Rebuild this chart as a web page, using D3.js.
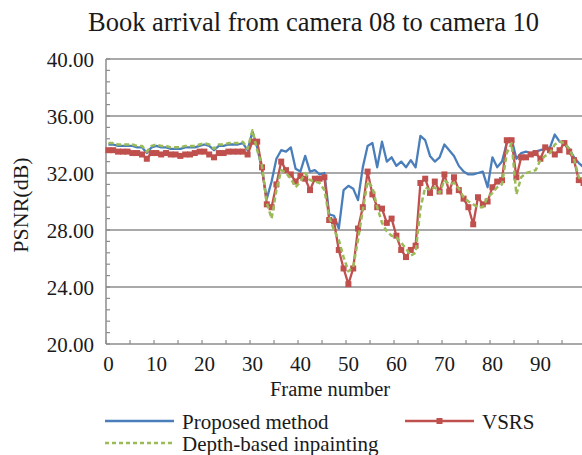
<!DOCTYPE html>
<html>
<head>
<meta charset="utf-8">
<script src="https://cdn.jsdelivr.net/npm/d3@7"></script>
<style>
  html, body { margin: 0; padding: 0; background: #fff; }
  svg { display: block; }
</style>
</head>
<body>
<svg id="chart" width="582" height="455"></svg>
<script>
// Frame indices 0..99
const frames = d3.range(0, 100);

// PSNR (dB) per frame
const proposed = [
  34.0, 34.0, 33.9, 33.9, 33.9, 33.9, 33.8, 33.8, 33.4, 33.8,
  33.9, 33.8, 33.8, 33.7, 33.7, 33.7, 33.8, 33.8, 33.8, 33.9,
  34.0, 33.9, 33.6, 33.9, 33.9, 34.0, 34.0, 34.0, 34.1, 33.6,
  34.9, 33.8, 32.2, 30.2, 31.4, 33.0, 33.6, 33.5, 33.8, 32.3,
  32.1, 33.2, 32.1, 32.2, 31.9, 32.0, 29.1, 29.0, 28.1, 30.8,
  31.1, 30.9, 30.1, 32.4, 33.9, 34.1, 32.4, 34.2, 32.8, 33.1,
  32.5, 32.8, 32.4, 32.9, 32.4, 34.6, 34.3, 33.2, 32.8, 33.1,
  34.0, 33.6, 33.2, 32.5, 32.1, 31.9, 31.9, 32.0, 32.1, 31.0,
  33.1, 32.4, 32.8, 34.1, 34.4, 33.0, 33.4, 33.5, 33.4, 33.5,
  33.6, 33.7, 33.8, 34.7, 34.2, 34.1, 33.7, 33.1, 32.7, 32.4
];
const vsrs = [
  33.6, 33.6, 33.5, 33.5, 33.5, 33.4, 33.4, 33.3, 33.0, 33.4,
  33.4, 33.3, 33.4, 33.3, 33.3, 33.2, 33.3, 33.3, 33.4, 33.5,
  33.5, 33.3, 33.1, 33.4, 33.4, 33.5, 33.5, 33.5, 33.5, 33.3,
  34.2, 34.2, 32.4, 29.8, 29.6, 31.2, 32.8, 32.2, 31.9, 31.4,
  31.8, 31.6, 30.8, 31.6, 31.6, 31.7, 28.7, 28.6, 26.6, 25.3,
  24.2, 25.3, 28.1, 29.6, 32.1, 30.5, 29.6, 29.5, 28.5, 28.8,
  27.6, 26.6, 26.1, 26.6, 26.9, 31.3, 31.6, 30.6, 31.4, 30.7,
  31.9, 30.7, 31.7, 30.8, 30.2, 29.6, 28.4, 30.3, 29.8, 30.0,
  31.0, 31.4, 31.5, 34.3, 34.3, 31.7, 33.1, 33.1, 33.3, 33.4,
  33.0, 33.8, 33.6, 33.3, 33.6, 34.1, 33.5, 32.9, 31.5, 31.3
];
const depthInpaint = [
  34.1, 34.1, 34.0, 34.0, 34.0, 34.0, 33.9, 33.9, 33.5, 33.9,
  34.0, 33.9, 33.9, 33.8, 33.8, 33.8, 33.9, 33.9, 33.9, 34.0,
  34.1, 34.0, 33.7, 34.0, 34.0, 34.1, 34.1, 34.1, 34.2, 33.7,
  35.0, 33.6, 32.5, 29.9, 28.8, 30.8, 32.2, 32.0, 31.6, 31.0,
  31.4, 32.0, 31.5, 31.4, 31.3, 30.8, 28.9, 28.0, 27.3, 26.1,
  25.1, 25.4, 27.3, 29.4, 31.4, 31.0, 29.6, 28.5, 27.9, 27.6,
  27.5, 27.1, 26.7, 26.2, 26.4, 29.5, 31.0, 30.8, 31.0, 30.6,
  31.5, 31.2, 31.3, 30.9, 30.3, 30.0, 29.8, 29.6, 29.6, 30.3,
  30.6, 31.0, 31.2, 33.4, 34.1, 30.5, 31.7, 32.0, 32.1, 32.2,
  32.9, 33.2, 33.4, 34.0, 34.2, 34.1, 33.7, 33.0, 31.7, 31.4
];

const yTicks = [20, 24, 28, 32, 36, 40];
const xLabels = [0, 10, 20, 30, 40, 50, 60, 70, 80, 90];

const titleText = "Book arrival from camera 08 to camera 10";
const yTitle = "PSNR(dB)";
const xTitle = "Frame number";
const seriesNames = ["Proposed method", "VSRS", "Depth-based inpainting"];

const colors = { blue: "#4a7ebb", red: "#c0504d", green: "#9bbb59", grid: "#8c8c8c", text: "#1a1a1a" };
const fontFamily = "'Liberation Serif', 'DejaVu Serif', serif";
const labelSize = 21;

const svg = d3.select("#chart")
  .attr("font-family", fontFamily)
  .style("font-family", fontFamily);
svg.append("rect").attr("width", 582).attr("height", 455).attr("fill", "#fff");

const plot = { left: 106, right: 586, top: 59, bottom: 344 };

const x = d3.scaleBand().domain(frames).range([plot.left, plot.right]).padding(0);
const cx = i => x(i) + x.bandwidth() / 2;
const y = d3.scaleLinear().domain([20, 40]).range([plot.bottom, plot.top]);

function label(sel) {
  return sel.attr("fill", colors.text).style("font-family", fontFamily);
}

// Title
svg.append("text")
  .attr("x", 313.5).attr("y", 31)
  .attr("text-anchor", "middle")
  .attr("font-size", 26.5)
  .call(label)
  .text(titleText);

// Horizontal gridlines (including top frame line)
svg.append("g").selectAll("line")
  .data(yTicks.filter(v => v > 20))
  .join("line")
  .attr("x1", plot.left).attr("x2", plot.right)
  .attr("y1", d => y(d)).attr("y2", d => y(d))
  .attr("stroke", colors.grid).attr("stroke-width", 1.5);

// Y axis with minor ticks drawn inward
const yAxis = svg.append("g").attr("transform", `translate(${plot.left},0)`);
yAxis.append("line")
  .attr("x1", 0).attr("x2", 0).attr("y1", plot.top).attr("y2", plot.bottom)
  .attr("stroke", colors.grid).attr("stroke-width", 1.5);
const minor = d3.range(20, 40.001, 0.8);
yAxis.selectAll("line.minor")
  .data(minor)
  .join("line").attr("class", "minor")
  .attr("x1", 0).attr("x2", 4)
  .attr("y1", d => y(d)).attr("y2", d => y(d))
  .attr("stroke", colors.grid).attr("stroke-width", 1.2);
yAxis.selectAll("text")
  .data(yTicks)
  .join("text")
  .attr("x", -12).attr("y", d => y(d) + 7.5)
  .attr("text-anchor", "end")
  .attr("font-size", labelSize)
  .call(label)
  .text(d => d3.format(".2f")(d));

// X axis
const xAxis = svg.append("g");
xAxis.append("line")
  .attr("x1", plot.left).attr("x2", plot.right)
  .attr("y1", plot.bottom).attr("y2", plot.bottom)
  .attr("stroke", colors.grid).attr("stroke-width", 1.5);
xAxis.selectAll("line.tick")
  .data(d3.range(0, 100, 5))
  .join("line").attr("class", "tick")
  .attr("x1", d => x(d)).attr("x2", d => x(d))
  .attr("y1", plot.bottom).attr("y2", plot.bottom - 4)
  .attr("stroke", colors.grid).attr("stroke-width", 1.2);
xAxis.selectAll("text")
  .data(xLabels)
  .join("text")
  .attr("x", d => cx(d)).attr("y", 371)
  .attr("text-anchor", "middle")
  .attr("font-size", labelSize)
  .call(label)
  .text(d => d);

// Axis titles
svg.append("text")
  .attr("x", 330).attr("y", 396)
  .attr("text-anchor", "middle")
  .attr("font-size", 20.5)
  .call(label)
  .text(xTitle);
svg.append("text")
  .attr("transform", "translate(28,205) rotate(-90)")
  .attr("text-anchor", "middle")
  .attr("font-size", 22)
  .call(label)
  .text(yTitle);

// Series
const line = d3.line().x((d, i) => cx(i)).y(d => y(d));

const chartArea = svg.append("g");
chartArea.append("path")
  .datum(proposed)
  .attr("d", line)
  .attr("fill", "none").attr("stroke", colors.blue).attr("stroke-width", 2.3)
  .attr("stroke-linejoin", "round");

chartArea.append("path")
  .datum(vsrs)
  .attr("d", line)
  .attr("fill", "none").attr("stroke", colors.red).attr("stroke-width", 2.3)
  .attr("stroke-linejoin", "round");
chartArea.selectAll("rect.m")
  .data(vsrs)
  .join("rect").attr("class", "m")
  .attr("x", (d, i) => cx(i) - 3).attr("y", d => y(d) - 3)
  .attr("width", 6).attr("height", 6)
  .attr("fill", colors.red);

chartArea.append("path")
  .datum(depthInpaint)
  .attr("d", line)
  .attr("fill", "none").attr("stroke", colors.green).attr("stroke-width", 2.5)
  .attr("stroke-dasharray", "5,3")
  .attr("stroke-linejoin", "round");

// Legend
const legend = svg.append("g");
const legendItems = [
  { name: seriesNames[0], color: colors.blue, x: 105, y: 421, dash: null, marker: false },
  { name: seriesNames[1], color: colors.red, x: 405, y: 421, dash: null, marker: true },
  { name: seriesNames[2], color: colors.green, x: 105, y: 443, dash: "4,3", marker: false }
];
legendItems.forEach(it => {
  const g = legend.append("g");
  g.append("line")
    .attr("x1", it.x).attr("x2", it.x + 69)
    .attr("y1", it.y).attr("y2", it.y)
    .attr("stroke", it.color).attr("stroke-width", 2.3)
    .attr("stroke-dasharray", it.dash);
  if (it.marker) {
    g.append("rect")
      .attr("x", it.x + 34.5 - 3).attr("y", it.y - 3)
      .attr("width", 6).attr("height", 6)
      .attr("fill", it.color);
  }
  g.append("text")
    .attr("x", it.x + 77).attr("y", it.y + 7.5)
    .attr("font-size", labelSize)
    .call(label)
    .text(it.name);
});
</script>
</body>
</html>
